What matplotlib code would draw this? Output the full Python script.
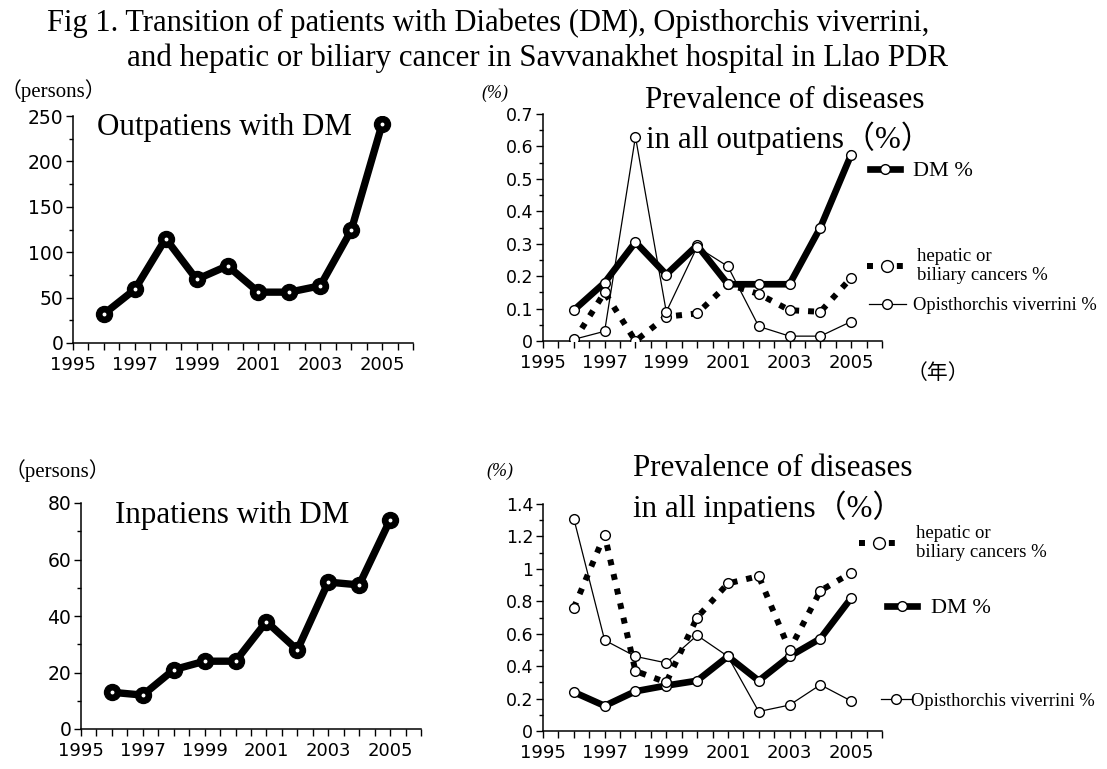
import matplotlib
matplotlib.use("Agg")
import matplotlib.pyplot as plt
from matplotlib.lines import Line2D
import numpy as np

# ---------------- data ----------------
years = [1996, 1997, 1998, 1999, 2000, 2001, 2002, 2003, 2004, 2005]
out_dm_persons = [32, 59, 115, 70, 85, 56, 56, 63, 124, 241]
in_dm_persons = [13, 12, 21, 24, 24, 38, 28, 52, 51, 74]

out_dm_pct = [0.095, 0.18, 0.305, 0.205, 0.295, 0.175, 0.175, 0.175, 0.35, 0.575]
out_hep_pct = [0.0, 0.15, 0.0, 0.075, 0.085, 0.175, 0.145, 0.095, 0.09, 0.195]
out_ov_pct = [0.005, 0.03, 0.63, 0.09, 0.29, 0.23, 0.045, 0.015, 0.015, 0.06]

in_dm_pct = [0.24, 0.155, 0.245, 0.28, 0.31, 0.46, 0.31, 0.46, 0.57, 0.82]
in_hep_pct = [0.76, 1.21, 0.37, 0.30, 0.70, 0.91, 0.955, 0.50, 0.865, 0.975]
in_ov_pct = [1.31, 0.56, 0.46, 0.42, 0.59, 0.46, 0.12, 0.16, 0.285, 0.185]

year_ticks = [1995, 1997, 1999, 2001, 2003, 2005]
year_labels = ["1995", "1997", "1999", "2001", "2003", "2005"]
p1_yticks = [0, 50, 100, 150, 200, 250]
p1_ylabels = ["0", "50", "100", "150", "200", "250"]
p2_yticks = [0, 0.1, 0.2, 0.3, 0.4, 0.5, 0.6, 0.7]
p2_ylabels = ["0", "0.1", "0.2", "0.3", "0.4", "0.5", "0.6", "0.7"]
p3_yticks = [0, 20, 40, 60, 80]
p3_ylabels = ["0", "20", "40", "60", "80"]
p4_yticks = [0, 0.2, 0.4, 0.6, 0.8, 1.0, 1.2, 1.4]
p4_ylabels = ["0", "0.2", "0.4", "0.6", "0.8", "1", "1.2", "1.4"]

title_line1 = "Fig 1. Transition of patients with Diabetes (DM), Opisthorchis viverrini,"
title_line2 = "and hepatic or biliary cancer in Savvanakhet hospital in Llao PDR"

# ---------------- layout helpers ----------------
W, H = 1107, 769
fig = plt.figure(figsize=(W / 100, H / 100), dpi=100)
fig.patch.set_facecolor("white")

SERIF = ["Liberation Serif", "Noto Sans CJK JP", "DejaVu Serif"]
SANS = ["DejaVu Sans", "Noto Sans CJK JP"]


def px(x, y):
    return (x / W, 1 - y / H)


def rect(x0, x1, ytop, ybot):
    return [x0 / W, 1 - ybot / H, (x1 - x0) / W, (ybot - ytop) / H]


def style_axes(ax, ymax, yticks, ylabels, yminor, ylab_size):
    for s in ["top", "right"]:
        ax.spines[s].set_visible(False)
    for s in ["left", "bottom"]:
        ax.spines[s].set_linewidth(1.1)
        ax.spines[s].set_color("black")
    ax.set_xlim(1995, 2006)
    ax.set_ylim(0, ymax)
    ax.set_xticks(year_ticks)
    ax.set_xticklabels(year_labels, fontsize=13, family=SANS)
    ax.set_xticks(np.arange(1995, 2006.01, 0.5), minor=True)
    ax.set_yticks(yticks)
    ax.set_yticklabels(ylabels, fontsize=ylab_size, family=SANS)
    ax.set_yticks(yminor, minor=True)
    ax.tick_params(axis="x", which="both", direction="out", length=5, width=1.0, pad=4)
    ax.tick_params(axis="y", which="major", direction="out", length=5, width=1.0, pad=2)
    ax.tick_params(axis="y", which="minor", direction="out", length=3, width=1.0)
    ax.patch.set_alpha(0)


# ---------------- title ----------------
fig.text(*px(47, 31), title_line1, family=SERIF, fontsize=22, va="baseline", ha="left")
fig.text(*px(127, 66), title_line2, family=SERIF, fontsize=22.3, va="baseline", ha="left")

# ---------------- panel 1: outpatients with DM ----------------
ax1 = fig.add_axes(rect(73, 413, 116, 343))
style_axes(ax1, 250, p1_yticks, p1_ylabels, np.arange(0, 251, 25), 13.5)
ax1.plot(years, out_dm_persons, color="black", lw=5.3, marker="o", ms=11.5,
         mfc="black", mec="black", solid_joinstyle="miter", zorder=3)
ax1.plot(years, out_dm_persons, ls="none", marker="o", ms=1.8, mfc="white",
         mec="white", zorder=4)
fig.text(*px(1, 91), "（persons）", family=SERIF, fontsize=15, va="center", ha="left")
fig.text(*px(97, 128), "Outpatiens with DM", family=SERIF, fontsize=22.3, va="center", ha="left")

# ---------------- panel 3: inpatients with DM ----------------
ax3 = fig.add_axes(rect(81, 421, 503, 729))
style_axes(ax3, 80, p3_yticks, p3_ylabels, np.arange(0, 81, 10), 13.5)
ax3.plot(years, in_dm_persons, color="black", lw=5.3, marker="o", ms=11.5,
         mfc="black", mec="black", solid_joinstyle="miter", zorder=3)
ax3.plot(years, in_dm_persons, ls="none", marker="o", ms=1.8, mfc="white",
         mec="white", zorder=4)
fig.text(*px(5, 471), "（persons）", family=SERIF, fontsize=15, va="center", ha="left")
fig.text(*px(115, 515), "Inpatiens with DM", family=SERIF, fontsize=22.3, va="center", ha="left")

# ---------------- prevalence panels ----------------
DM_KW = dict(color="black", lw=4.8, solid_joinstyle="miter", zorder=2)
HEP_KW = dict(color="black", lw=4.3, ls=(0, (1, 1.5)), dash_capstyle="butt", zorder=2)
OV_KW = dict(color="black", lw=0.9, zorder=2)
MK_KW = dict(ls="none", marker="o", ms=7, mfc="white", mec="black", mew=1.0, zorder=4)


def prevalence(ax, dm, hep, ov):
    ax.plot(years, dm, **DM_KW)
    ax.plot(years, hep, **HEP_KW)
    ax.plot(years, ov, **OV_KW)
    ax.plot(years, dm, **MK_KW)
    ax.plot(years, hep, **MK_KW)
    ax.plot(years, ov, **MK_KW)


def legend_entry(kind, label, x, y, size, hlen, pad):
    if kind == "dm":
        h = Line2D([], [], color="black", lw=4.8, marker="o", ms=7, mfc="white",
                   mec="black", mew=1.0)
    elif kind == "hep":
        h = Line2D([], [], color="black", lw=4.3, ls=(0, (1, 1.5)), dash_capstyle="butt",
                   marker="o", ms=8.5, mfc="white", mec="black", mew=1.0)
    else:
        h = Line2D([], [], color="black", lw=0.9, marker="o", ms=7, mfc="white",
                   mec="black", mew=1.0)
    fig.legend(handles=[h], labels=[label], loc="center left", bbox_to_anchor=px(x, y),
               frameon=False, borderpad=0, borderaxespad=0, handlelength=hlen,
               handletextpad=pad, numpoints=1, prop=dict(family=SERIF, size=size),
               labelspacing=0.1)


# panel 2
ax2 = fig.add_axes(rect(543, 882, 114, 341))
style_axes(ax2, 0.7, p2_yticks, p2_ylabels, np.arange(0, 0.701, 0.05), 12.5)
prevalence(ax2, out_dm_pct, out_hep_pct, out_ov_pct)
fig.text(*px(481, 93), "(%)", family=SERIF, fontsize=13, va="center", ha="left", style="italic")
fig.text(*px(645, 101), "Prevalence of diseases", family=SERIF, fontsize=22.3, va="center", ha="left")
fig.text(*px(646, 138), "in all outpatiens（%）", family=SERIF, fontsize=22.3, va="center", ha="left")
fig.text(*px(907, 373), "（年）", family=["Noto Sans CJK JP"], fontsize=15, va="center", ha="left")
legend_entry("dm", "DM %", 870, 171, 16, 1.35, 0.6)
legend_entry("hep", "hepatic or\nbiliary cancers %", 867, 266, 13.5, 2.15, 0.5)
legend_entry("ov", "Opisthorchis viverrini %", 869, 306, 13.3, 2.0, 0.4)

# panel 4
ax4 = fig.add_axes(rect(543, 882, 504, 731))
style_axes(ax4, 1.4, p4_yticks, p4_ylabels, np.arange(0, 1.401, 0.1), 12.5)
prevalence(ax4, in_dm_pct, in_hep_pct, in_ov_pct)
fig.text(*px(486, 471), "(%)", family=SERIF, fontsize=13, va="center", ha="left", style="italic")
fig.text(*px(633, 469), "Prevalence of diseases", family=SERIF, fontsize=22.3, va="center", ha="left")
fig.text(*px(633, 507), "in all inpatiens（%）", family=SERIF, fontsize=22.3, va="center", ha="left")
legend_entry("hep", "hepatic or\nbiliary cancers %", 859, 543, 13.5, 2.15, 0.9)
legend_entry("dm", "DM %", 887, 608, 16, 1.35, 0.65)
legend_entry("ov", "Opisthorchis viverrini %", 881, 701, 13.3, 1.6, 0.05)

fig.savefig("out.png", dpi=100, facecolor="white")
